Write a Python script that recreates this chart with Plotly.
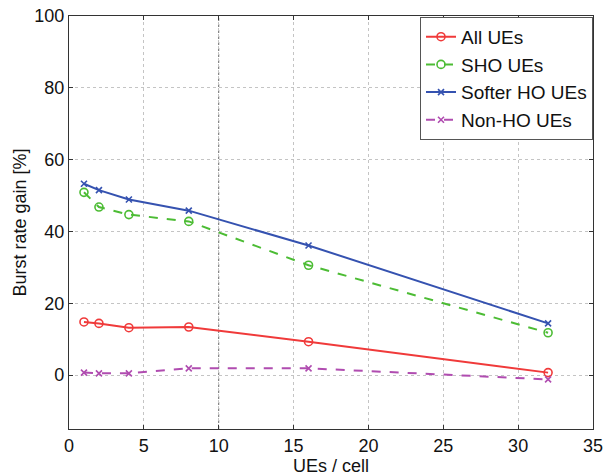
import plotly.graph_objects as go

ues_per_cell = [1, 2, 4, 8, 16, 32]
all_ues = [14.8, 14.4, 13.2, 13.4, 9.3, 0.7]
sho_ues = [50.9, 46.8, 44.7, 42.8, 30.6, 11.8]
softer_ho_ues = [53.3, 51.5, 48.9, 45.8, 36.1, 14.4]
non_ho_ues = [0.7, 0.5, 0.5, 1.9, 1.9, -1.2]

x_ticks = [0, 5, 10, 15, 20, 25, 30, 35]
y_ticks = [0, 20, 40, 60, 80, 100]

series = [
    ("All UEs", all_ues, "#f03a3a", "solid", "circle-open", 8),
    ("SHO UEs", sho_ues, "#4cbc34", "dash", "circle-open", 8),
    ("Softer HO UEs", softer_ho_ues, "#3552b0", "solid", "x-thin-open", 6),
    ("Non-HO UEs", non_ho_ues, "#b04cb0", "dash", "x-thin-open", 6),
]

fig = go.Figure()
for name, vals, color, dash, symbol, size in series:
    fig.add_trace(go.Scatter(
        x=ues_per_cell, y=vals, name=name, mode="lines+markers",
        line=dict(color=color, width=2, dash=dash),
        marker=dict(symbol=symbol, size=size, color=color,
                    line=dict(color=color, width=1.6)),
    ))

font = "Liberation Sans, Arial, sans-serif"
axis_common = dict(
    showline=True, linecolor="#333333", linewidth=1.2, mirror="ticks",
    ticks="inside", ticklen=4, tickcolor="#333333",
    showgrid=True, gridcolor="#c4c4c4", griddash="dot", gridwidth=1,
    zeroline=False, automargin=False,
    tickfont=dict(family=font, size=18, color="#111111"),
    title_font=dict(family=font, size=18, color="#111111"),
)

fig.update_layout(
    width=605, height=476,
    margin=dict(l=69, r=12, t=16, b=47),
    paper_bgcolor="white", plot_bgcolor="white",
    font=dict(family=font, size=18, color="#111111"),
    xaxis=dict(range=[0, 35], tickvals=x_ticks, title=dict(text="UEs / cell", standoff=3),
               **axis_common),
    yaxis=dict(range=[-15, 100], tickvals=y_ticks,
               title=dict(text="Burst rate gain [%]", standoff=2), **axis_common),
    legend=dict(x=1, y=0.998, xanchor="right", yanchor="top",
                bgcolor="white", bordercolor="#555555", borderwidth=1,
                font=dict(family=font, size=19, color="#111111")),
    showlegend=True,
)

# darker dotted grid line at x = 10
fig.add_shape(type="line", xref="x", yref="paper", x0=10, x1=10, y0=0, y1=1,
              line=dict(color="#666666", width=1, dash="dot"), layer="below")

fig.write_html("out.html")
